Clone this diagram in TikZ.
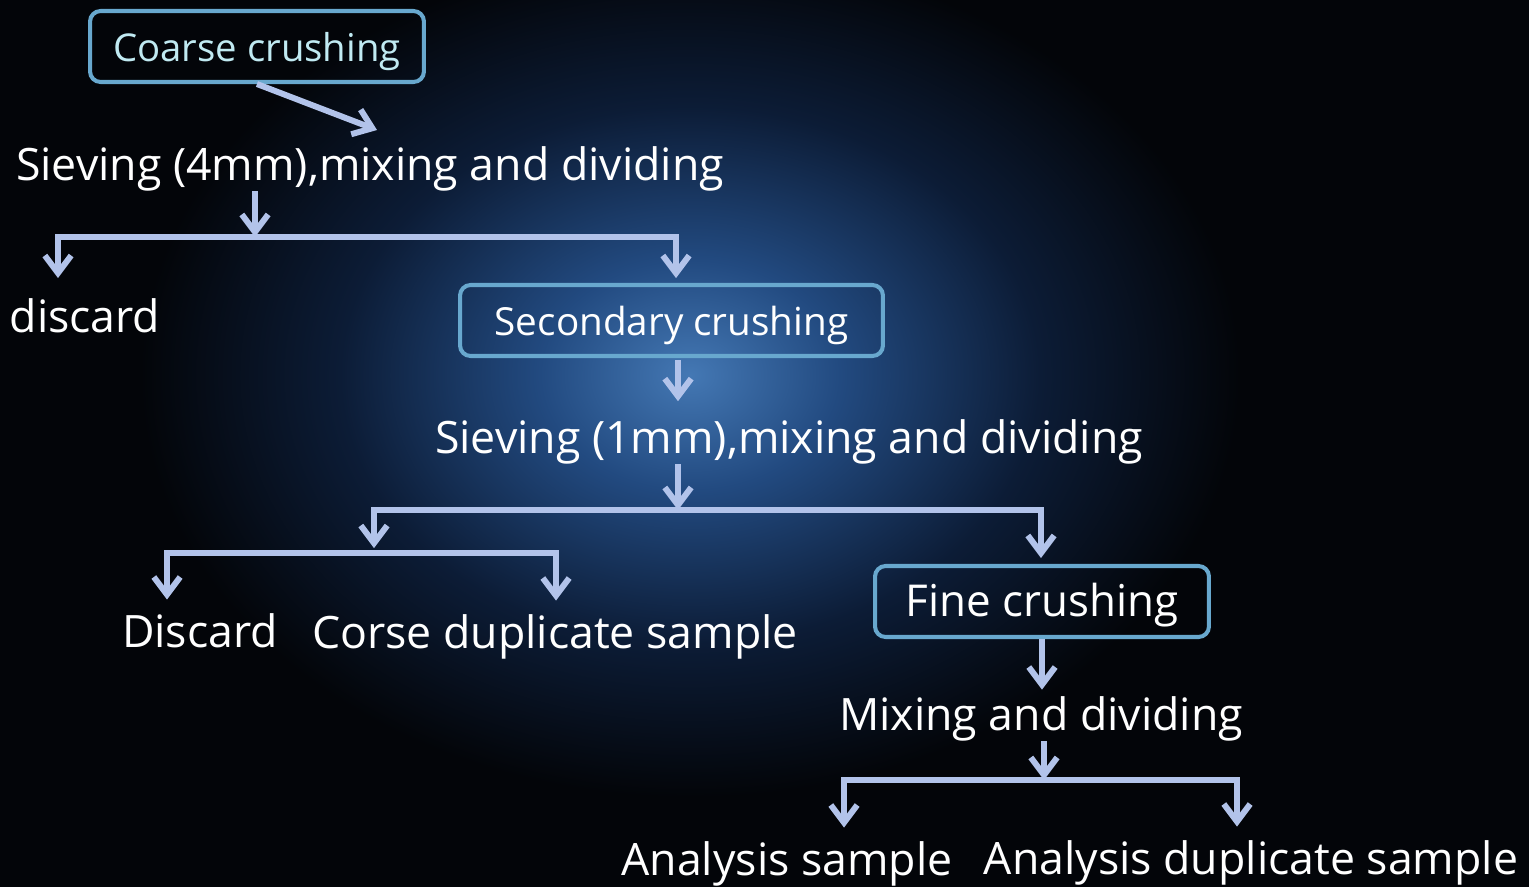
\documentclass[tikz,border=0pt]{standalone}
\usepackage{fontspec}
\setmainfont{Open Sans}
\usetikzlibrary{arrows.meta}
\usetikzlibrary{positioning}

\definecolor{bgdark}{RGB}{3,5,9}
\definecolor{glowcore}{RGB}{68,120,180}
\definecolor{glowmid}{RGB}{34,74,128}
\definecolor{glowedge}{RGB}{12,28,54}
\definecolor{boxline}{RGB}{104,168,206}
\definecolor{flowline}{RGB}{178,195,234}
\definecolor{coarsetext}{RGB}{192,234,242}
\pgfdeclareradialshading{glow}{\pgfpoint{0bp}{0bp}}{color(0bp)=(glowcore); color(6bp)=(glowmid); color(14bp)=(glowedge); color(22bp)=(bgdark); color(50bp)=(bgdark)}

\tikzset{
  stage/.style={draw=boxline, line width=2.3pt, rounded corners=6pt, text=white, inner sep=0pt,
    minimum width=6.68cm, minimum height=1.42cm, text height=18pt, text depth=1.5pt,
    font=\fontsize{22}{26}\selectfont},
  steptext/.style={text=white, inner sep=0pt, anchor=base, font=\fontsize{25.4}{30}\selectfont},
  flow/.style={draw=flowline, line width=3.4pt, -{Straight Barb[length=10pt,width=15pt]}},
  bar/.style={draw=flowline, line width=3.4pt, line cap=rect},
}

\begin{document}
\begin{tikzpicture}[x=0.02cm,y=-0.02cm]
\useasboundingbox (0,0) rectangle (1529,887);
\fill[bgdark] (0,0) rectangle (1529,887);
\begin{scope}
\clip (0,0) rectangle (1529,887);
\shade[shading=glow] (690,375) ellipse [x radius=625, y radius=480];
\end{scope}

\node[stage, text=coarsetext, font=\fontsize{21.8}{26}\selectfont] (coarse) at (257,46.5) {Coarse crushing};
\node[steptext] (sieve4) at (370,180) {Sieving (4mm),mixing and dividing};
\node[steptext] (discard1) at (85,332) {discard};
\node[stage, minimum width=8.46cm] (second) at (671.5,320.5) {Secondary crushing};
\node[steptext] (sieve1) at (789,453) {Sieving (1mm),mixing and dividing};
\node[steptext] (discard2) at (200,647) {Discard};
\node[steptext] (coarsedup) at (555,648) {Corse duplicate sample};
\node[stage, font=\fontsize{25}{30}\selectfont] (fine) at (1042,601.5) {Fine crushing};
\node[steptext] (mixdiv) at (1041,730) {Mixing and dividing};
\node[steptext] (analysis) at (787,875) {Analysis sample};
\node[steptext] (analysisdup) at (1251,874) {Analysis duplicate sample};

\coordinate (c1) at (377,130);
\coordinate (j1) at (255,237);
\coordinate (j1l) at (58,237);
\coordinate (j1r) at (676,237);
\coordinate (j2) at (678,510);
\coordinate (j2l) at (374,510);
\coordinate (j2r) at (1041,510);
\coordinate (j3) at (374,553);
\coordinate (j3l) at (167,553);
\coordinate (j3r) at (556,553);
\coordinate (j4) at (1044,780);
\coordinate (j4l) at (844,780);
\coordinate (j4r) at (1237,780);

\draw[flow] (coarse.south) -- (c1);
\draw[flow] (j1 |- sieve4.south) -- (j1);
\draw[bar] (j1l) -- (j1r);
\draw[flow, shorten >=2.8pt] (j1l) -- (j1l |- second.north);
\draw[flow, shorten >=2.8pt] (j1r) -- (j1r |- second.north);
\draw[flow, shorten <=1.2pt, shorten >=10pt] (j2 |- second.south) -- (j2 |- sieve1.north);
\draw[flow] (j2 |- sieve1.south) -- (j2);
\draw[bar] (j2l) -- (j2r);
\draw[flow, shorten >=2.8pt] (j2l) -- (j3);
\draw[flow, shorten >=3.4pt] (j2r) -- (j2r |- fine.north);
\draw[bar] (j3l) -- (j3r);
\draw[flow, shorten >=7.5pt] (j3l) -- (j3l |- discard2.north);
\draw[flow, shorten >=7.5pt] (j3r) -- (j3r |- coarsedup.north);
\draw[flow, shorten >=3.5pt] (fine.south) -- (fine.south |- mixdiv.north);
\draw[flow] (j4 |- mixdiv.south) -- (j4);
\draw[bar] (j4l) -- (j4r);
\draw[flow, shorten >=7.5pt] (j4l) -- (j4l |- analysis.north);
\draw[flow, shorten >=7.5pt] (j4r) -- (j4r |- analysisdup.north);
\end{tikzpicture}
\end{document}
